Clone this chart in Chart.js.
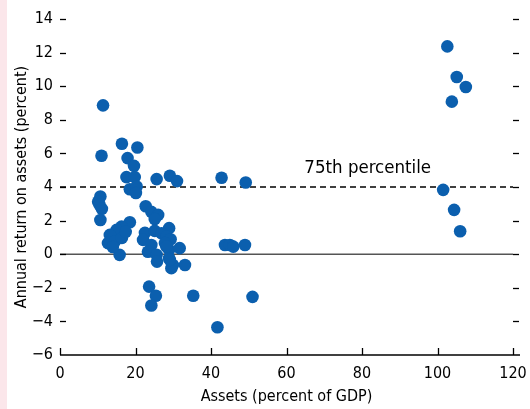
<!DOCTYPE html>
<html>
<head>
<meta charset="utf-8">
<script src="https://cdn.jsdelivr.net/npm/chart.js@4.4.1/dist/chart.umd.min.js"></script>
<style>
  html, body { margin: 0; padding: 0; background: #ffffff; }
  #wrap { position: relative; width: 530px; height: 409px; background: #ffffff; }
  #strip { position: absolute; left: 0; top: 0; width: 7px; height: 409px; background: #fbe6ea; }
  canvas { position: absolute; left: 0; top: 0; }
</style>
</head>
<body>
<div id="wrap">
  <div id="strip"></div>
  <canvas id="c" width="530" height="409"></canvas>
</div>
<script>
// Assets (percent of GDP)
const assetsPct = [
  11.4, 11.0, 16.4, 20.5, 17.9, 19.6, 17.6, 19.8, 25.6, 29.1, 31.0, 42.8, 49.2,
  18.5, 20.3, 20.1,
  10.7, 10.1, 10.5, 11.1, 10.7,
  22.7, 24.2, 26.0, 25.1, 18.5, 28.9,
  16.3, 15.0, 13.2, 12.7, 14.5, 15.8, 16.4, 17.4, 14.0,
  22.5, 25.1, 26.9, 22.0, 24.2, 23.3, 28.2, 29.3, 27.8, 28.9, 31.7, 25.6, 25.7,
  28.9, 29.5, 29.9, 29.1, 33.1, 28.2,
  43.7, 45.0, 45.9, 49.0,
  23.6, 25.4, 24.2, 35.3, 51.0, 41.7,
  102.6, 105.1, 107.5, 103.8, 101.5, 104.4, 106.0
];
// Annual return on assets (percent)
const returnPct = [
  8.86, 5.86, 6.57, 6.35, 5.72, 5.26, 4.59, 4.59, 4.47, 4.67, 4.35, 4.55, 4.27,
  3.87, 4.03, 3.64,
  3.43, 3.12, 2.94, 2.70, 2.04,
  2.85, 2.52, 2.34, 2.09, 1.90, 1.55,
  1.64, 1.45, 1.15, 0.66, 0.75, -0.04, 0.97, 1.33, 0.43,
  1.27, 1.39, 1.25, 0.85, 0.55, 0.15, 1.05, 0.89, 0.66, 0.26, 0.36, -0.04, -0.44,
  -0.24, -0.83, -0.64, -0.34, -0.64, 0.45,
  0.55, 0.55, 0.45, 0.55,
  -1.93, -2.47, -3.05, -2.47, -2.54, -4.35,
  12.37, 10.55, 9.95, 9.08, 3.83, 2.64, 1.37
];
const xTicks = [0, 20, 40, 60, 80, 100, 120];
const yTicks = [-6, -4, -2, 0, 2, 4, 6, 8, 10, 12, 14];
const percentile75 = 4;
const percentileLabel = "75th percentile";
const zeroLine = 0;

const points = assetsPct.map((x, i) => ({ x: x, y: returnPct[i] }));
const FONT = "'Liberation Sans Narrow', 'Arial Narrow', 'DejaVu Sans Condensed', sans-serif";

const decor = {
  id: 'decor',
  beforeDatasetsDraw(chart) {
    const ctx = chart.ctx;
    const xs = chart.scales.x, ys = chart.scales.y;
    const a = chart.chartArea;
    ctx.save();
    // zero line
    const y0 = ys.getPixelForValue(zeroLine);
    ctx.strokeStyle = '#555555';
    ctx.lineWidth = 1.5;
    ctx.beginPath(); ctx.moveTo(a.left, y0); ctx.lineTo(a.right, y0); ctx.stroke();
    // 75th percentile dashed
    const y4 = ys.getPixelForValue(percentile75);
    ctx.strokeStyle = '#000000';
    ctx.lineWidth = 1.4;
    ctx.setLineDash([6, 4]);
    ctx.beginPath(); ctx.moveTo(a.left, y4); ctx.lineTo(a.right, y4); ctx.stroke();
    ctx.setLineDash([]);
    // label
    ctx.fillStyle = '#000000';
    ctx.font = "18.5px " + FONT;
    ctx.textAlign = 'right';
    ctx.textBaseline = 'alphabetic';
    ctx.fillText(percentileLabel, xs.getPixelForValue(98.3), ys.getPixelForValue(4.85));
    // x axis line + ticks
    ctx.strokeStyle = '#000000';
    ctx.lineWidth = 1.3;
    ctx.beginPath(); ctx.moveTo(a.left, a.bottom); ctx.lineTo(a.right + 7, a.bottom); ctx.stroke();
    xTicks.forEach(v => {
      const px = Math.round(xs.getPixelForValue(v)) + 0.5;
      ctx.beginPath(); ctx.moveTo(px, a.bottom); ctx.lineTo(px, a.bottom - 7); ctx.stroke();
    });
    // y ticks left (inside) and right (outside)
    yTicks.forEach(v => {
      if (v === -6) return;
      const py = Math.round(ys.getPixelForValue(v)) + 0.5;
      ctx.beginPath(); ctx.moveTo(a.left, py); ctx.lineTo(a.left + 6, py); ctx.stroke();
      ctx.beginPath(); ctx.moveTo(a.right, py); ctx.lineTo(a.right + 6, py); ctx.stroke();
    });
    ctx.restore();
  }
};

new Chart(document.getElementById('c'), {
  type: 'scatter',
  data: {
    datasets: [{
      data: points,
      backgroundColor: '#0b5fae',
      borderColor: '#0b5fae',
      borderWidth: 0,
      pointRadius: 6.3,
      pointHoverRadius: 6.3
    }]
  },
  options: {
    responsive: false,
    animation: false,
    layout: { padding: { left: 8, right: 17, top: 19, bottom: 0 } },
    plugins: { legend: { display: false }, tooltip: { enabled: false } },
    scales: {
      x: {
        type: 'linear', min: 0, max: 120,
        afterBuildTicks(s) { s.ticks = xTicks.map(v => ({ value: v })); },
        afterFit(s) { s.height = 54; s.paddingLeft = 0; s.paddingRight = 0; },
        border: { display: false },
        grid: { display: false, drawTicks: false },
        ticks: { color: '#000', padding: 9, font: { family: FONT, size: 16 }, maxRotation: 0 },
        title: { display: true, text: 'Assets (percent of GDP)', color: '#000',
                 font: { family: FONT, size: 16 }, padding: { top: 0, bottom: 3 } }
      },
      y: {
        type: 'linear', min: -6, max: 14,
        afterBuildTicks(s) { s.ticks = yTicks.map(v => ({ value: v })); },
        afterFit(s) { s.width = 52; s.paddingTop = 0; s.paddingBottom = 0; },
        border: { display: false },
        grid: { display: false, drawTicks: false },
        ticks: { color: '#000', padding: 7, font: { family: FONT, size: 16 },
                 callback: v => (v < 0 ? '\u2212' + Math.abs(v) : String(v)) },
        title: { display: true, text: 'Annual return on assets (percent)', color: '#000',
                 font: { family: FONT, size: 16 }, padding: { top: 4, bottom: 0 } }
      }
    }
  },
  plugins: [decor]
});
</script>
</body>
</html>
